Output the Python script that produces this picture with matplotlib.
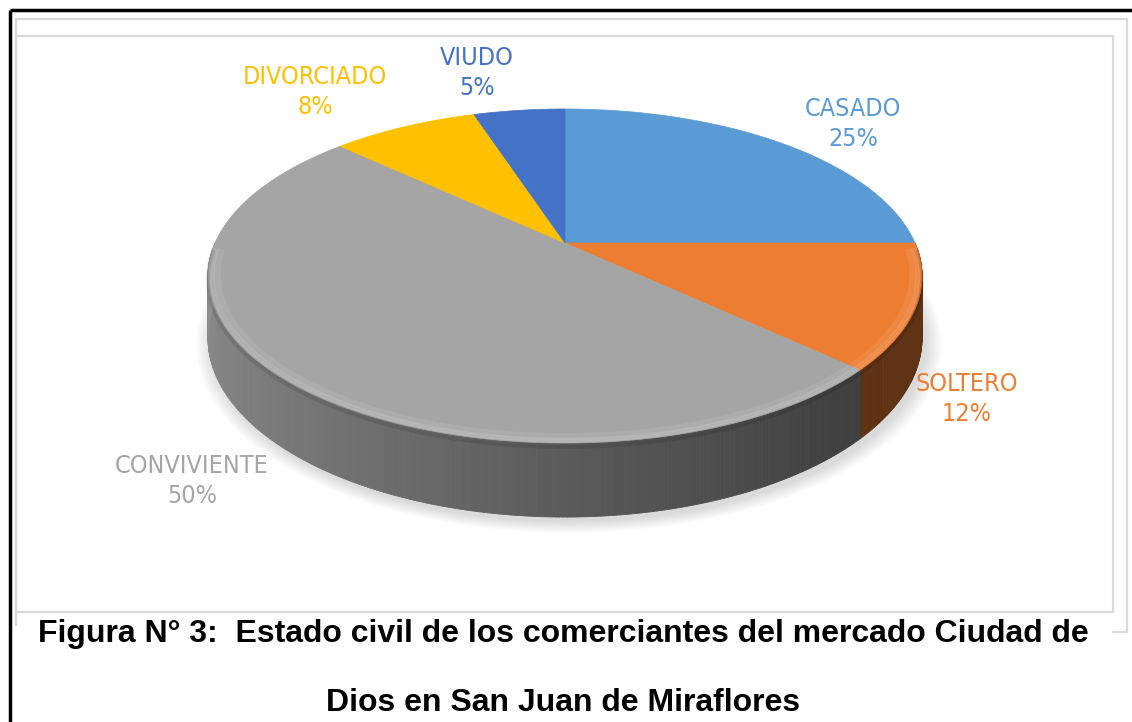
import numpy as np
import matplotlib.pyplot as plt
from matplotlib.collections import PolyCollection
from matplotlib.colors import to_rgb
from matplotlib import font_manager as fm

# Datos
categorias = ['CASADO', 'SOLTERO', 'CONVIVIENTE', 'DIVORCIADO', 'VIUDO']
porcentajes = [25, 12, 50, 8, 5]
colores = ['#5B9BD5', '#ED7D31', '#A5A5A5', '#FFC000', '#4472C4']
colores_texto = ['#5B9BD5', '#ED7D31', '#A5A5A5', '#FFC000', '#4472C4']
titulo_1 = 'Figura N° 3:  Estado civil de los comerciantes del mercado Ciudad de'
titulo_2 = 'Dios en San Juan de Miraflores'

# Posiciones de etiquetas (pixeles)
pos_etiquetas = [(853, 124), (967, 399), (192, 481), (315, 92), (477, 73)]

# Geometria de la torta en perspectiva
CX, CY = 565, 243
P, Q, K = 350, 160.5, 0.1976
D = 59.4


def proyectar(theta, r=1.0, z=0.0):
    t = np.radians(theta)
    u = r * np.sin(t)
    v = r * np.cos(t)
    w = 1 + K * v
    return CX + P * u / w, CY - Q * v / w + z / w


def sombra_lateral(theta):
    # factor de luz para la pared lateral
    return np.interp(theta, [90, 140, 180, 220, 270], [0.38, 0.39, 0.55, 0.72, 0.88])


# Fuente estrecha si existe (tipo Arial Narrow)
fuente_etq = None
for f in fm.fontManager.ttflist:
    nombre = f.name.lower()
    if f.style != 'normal' or f.weight not in (400, 'normal', 'regular'):
        continue
    if 'narrow' in nombre or 'condensed' in nombre or f.stretch in ('condensed', 'semi-condensed'):
        if 'serif' in nombre and 'sans' not in nombre:
            continue
        if fuente_etq is None or 'liberation' in nombre:
            fuente_etq = f.fname
if fuente_etq:
    prop_etq = fm.FontProperties(fname=fuente_etq, size=18.0)
else:
    prop_etq = fm.FontProperties(family=['Liberation Sans', 'DejaVu Sans'], size=16.5)

fig = plt.figure(figsize=(11.32, 7.22), dpi=100)
ax = fig.add_axes([0, 0, 1, 1])
ax.set_xlim(0, 1132)
ax.set_ylim(722, 0)
ax.axis('off')

# Marcos
ax.plot([9.5, 1132], [9.5, 9.5], color='black', lw=2.5, solid_capstyle='butt')
ax.plot([9.5, 9.5], [9.5, 722], color='black', lw=2.5, solid_capstyle='butt')
gris_marco = '#d9d9d9'
ax.plot([16, 1127, 1127, 1113], [19, 19, 632, 632], color=gris_marco, lw=1.6)
ax.plot([16, 16], [19, 625], color=gris_marco, lw=1.6)
ax.plot([16, 1113, 1113, 16, 16], [36, 36, 612, 612, 36], color=gris_marco, lw=1.6)

# Sombra difusa
th = np.linspace(0, 360, 361)
bx, by = proyectar(th, 1.0, D)
for i in range(12):
    s = 1.0 + 0.004 * i
    xs = CX + (bx - CX) * s + 4
    ys = CY + 30 + (by - CY - 30) * s + 5
    ax.fill(xs, ys, color='#7f7f7f', alpha=0.025, lw=0, zorder=1)

# Pared lateral
limites = np.concatenate([[0], np.cumsum(porcentajes) * 3.6])
quads, cols = [], []
for i, color in enumerate(colores):
    a0, a1 = max(limites[i], 90), min(limites[i + 1], 270)
    if a1 <= a0:
        continue
    angs = np.arange(a0, a1, 0.5)
    angs = np.append(angs, a1)
    base = np.array(to_rgb(color))
    for t0, t1 in zip(angs[:-1], angs[1:]):
        x0, y0 = proyectar(t0)
        x1, y1 = proyectar(t1)
        x0b, y0b = proyectar(t0, 1.0, D)
        x1b, y1b = proyectar(t1, 1.0, D)
        quads.append([(x0, y0), (x1, y1), (x1b, y1b), (x0b, y0b)])
        f = sombra_lateral((t0 + t1) / 2)
        if color == '#ED7D31':
            f = 0.40
        cols.append(np.clip(base * f, 0, 1))
pc = PolyCollection(quads, facecolors=cols, edgecolors=cols, linewidths=0.6, zorder=2)
ax.add_collection(pc)

# Cara superior
for i, color in enumerate(colores):
    angs = np.linspace(limites[i], limites[i + 1], 200)
    xs, ys = proyectar(angs)
    xs = np.concatenate([[CX], xs])
    ys = np.concatenate([[CY], ys])
    ax.fill(xs, ys, color=color, lw=0.5, ec=color, zorder=3)

# Bisel del borde (suave)
angs = np.linspace(92, 268, 300)
for r, lw, a in [(0.975, 5.0, 0.08), (0.988, 3.0, 0.12), (0.995, 1.5, 0.12)]:
    xs, ys = proyectar(angs, r)
    ax.plot(xs, ys, color='white', lw=lw, alpha=a, zorder=4, solid_capstyle='butt')
xs, ys = proyectar(angs, 1.0, 3)
ax.plot(xs, ys, color='black', lw=3, alpha=0.10, zorder=4)

# Etiquetas
for cat, pct, c, (x, y) in zip(categorias, porcentajes, colores_texto, pos_etiquetas):
    ax.text(x, y, f'{cat}\n{pct}%', color=c, fontproperties=prop_etq,
            ha='center', va='center', linespacing=1.3, zorder=5)

# Titulo de la figura
fuente_tit = ['Liberation Sans', 'DejaVu Sans']
ax.text(563, 634, titulo_1, fontsize=23.0, fontweight='bold', family=fuente_tit,
        ha='center', va='center', color='black')
ax.text(563, 703, titulo_2, fontsize=23.0, fontweight='bold', family=fuente_tit,
        ha='center', va='center', color='black')

fig.savefig('out.png', dpi=100)
